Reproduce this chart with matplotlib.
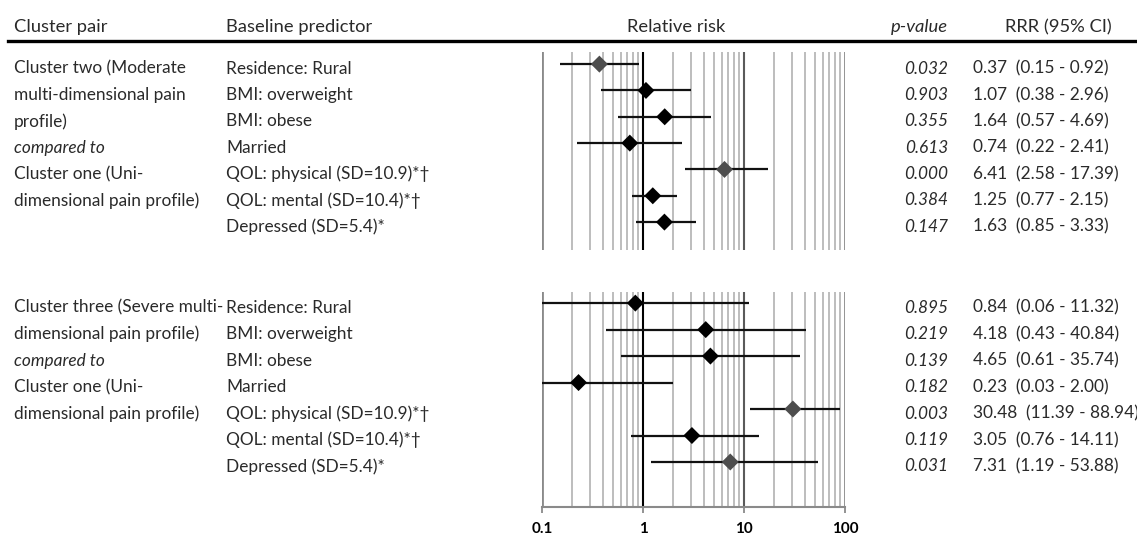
import matplotlib
matplotlib.use("Agg")
import matplotlib.pyplot as plt
import matplotlib.transforms as mtransforms
import numpy as np

W, H = 1137, 535
FONT = "Lato"
TXT = "#2a2a2a"
FS = 12.4

predictors = ["Residence: Rural", "BMI: overweight", "BMI: obese", "Married",
              "QOL: physical (SD=10.9)*\u2020", "QOL: mental (SD=10.4)*\u2020",
              "Depressed (SD=5.4)*"]

pair_two = ["Cluster two (Moderate", "multi-dimensional pain", "profile)",
            "compared to", "Cluster one (Uni-", "dimensional pain profile)"]
pair_three = ["Cluster three (Severe multi-", "dimensional pain profile)",
              "compared to", "Cluster one (Uni-", "dimensional pain profile)"]

rrr_two = [0.37, 1.07, 1.64, 0.74, 6.41, 1.25, 1.63]
lo_two = [0.15, 0.38, 0.57, 0.22, 2.58, 0.77, 0.85]
hi_two = [0.92, 2.96, 4.69, 2.41, 17.39, 2.15, 3.33]
p_two = [0.032, 0.903, 0.355, 0.613, 0.000, 0.384, 0.147]

rrr_three = [0.84, 4.18, 4.65, 0.23, 30.48, 3.05, 7.31]
lo_three = [0.06, 0.43, 0.61, 0.03, 11.39, 0.76, 1.19]
hi_three = [11.32, 40.84, 35.74, 2.00, 88.94, 14.11, 53.88]
p_three = [0.895, 0.219, 0.139, 0.182, 0.003, 0.119, 0.031]

tick_vals = [0.1, 1, 10, 100]
tick_labels = ["0.1", "1", "10", "100"]


def fx(px):
    return px / W


def fy(py):
    return 1 - py / H


def draw_panel(fig, top, bottom, ylo, yhi, rrr, lo, hi, pvals, pair, show_axis):
    ax = fig.add_axes([fx(542), fy(bottom), (845 - 542) / W, (bottom - top) / H])
    ax.set_xscale("log")
    ax.set_xlim(0.1, 100)
    ax.set_ylim(yhi, ylo)
    ax.patch.set_alpha(0)

    # light minor grid lines
    for dec in [0.1, 1, 10]:
        for m in range(2, 10):
            ax.axvline(dec * m, color="#b8b8b8", lw=1.3, zorder=0)
    ax.axvline(0.1, color="#8a8a8a", lw=2.0, zorder=0)
    ax.axvline(1, color="black", lw=1.5, zorder=1)
    ax.axvline(10, color="#5a5a5a", lw=1.5, zorder=0)
    ax.axvline(100, color="#8a8a8a", lw=2.0, zorder=0)

    rows = np.arange(len(rrr))
    rrr = np.array(rrr)
    err = [rrr - np.array(lo), np.array(hi) - rrr]
    ax.errorbar(rrr, rows, xerr=err, fmt="none", ecolor="#111111",
                elinewidth=1.6, capsize=0, zorder=2)
    colors = ["#4d4d4d" if p < 0.05 else "black" for p in pvals]
    ax.scatter(rrr, rows, marker="D", s=75, c=colors, zorder=3, linewidths=0)

    for s in ["top", "right", "left"]:
        ax.spines[s].set_visible(False)
    ax.set_yticks([])
    ax.minorticks_off()
    if show_axis:
        ax.spines["bottom"].set_color("#8a8a8a")
        ax.spines["bottom"].set_linewidth(1.5)
        ax.set_xticks(tick_vals)
        ax.set_xticklabels(tick_labels, fontweight="bold", fontsize=11,
                           family=FONT)
        ax.tick_params(axis="x", length=4, width=1.3, color="#8a8a8a", pad=7)
    else:
        ax.spines["bottom"].set_visible(False)
        ax.set_xticks([])

    tr = mtransforms.blended_transform_factory(fig.transFigure, ax.transData)
    off = 0.17
    for i, name in enumerate(predictors):
        fig.text(fx(226), i + off, name, transform=tr, va="center",
                 fontsize=FS, color=TXT, family=FONT)
        fig.text(fx(948), i + off, f"{pvals[i]:.3f}", transform=tr,
                 va="center", ha="right", fontsize=FS, color=TXT,
                 family=FONT, style="italic")
        fig.text(fx(973), i + off,
                 f"{rrr[i]:.2f}  ({lo[i]:.2f} - {hi[i]:.2f})", transform=tr,
                 va="center", fontsize=FS, color=TXT, family=FONT)
    for i, line in enumerate(pair):
        fig.text(fx(14), i + off, line, transform=tr, va="center",
                 fontsize=FS, color=TXT, family=FONT,
                 style="italic" if line == "compared to" else "normal")
    return ax


fig = plt.figure(figsize=(W / 100, H / 100), dpi=100)

# column headers
hy = fy(27)
HFS = 13.2
fig.text(fx(14), hy, "Cluster pair", va="center", fontsize=HFS, color=TXT, family=FONT)
fig.text(fx(226), hy, "Baseline predictor", va="center", fontsize=HFS, color=TXT, family=FONT)
fig.text(fx(676), hy, "Relative risk", va="center", ha="center", fontsize=HFS, color=TXT, family=FONT)
fig.text(fx(948), hy, "p-value", va="center", ha="right", fontsize=HFS, color=TXT,
         family=FONT, style="italic")
fig.text(fx(1058), hy, "RRR (95% CI)", va="center", ha="center", fontsize=HFS, color=TXT, family=FONT)
fig.add_artist(plt.Line2D([fx(8), fx(1137)], [fy(41), fy(41)], color="black", lw=2.4))

draw_panel(fig, 52, 250, -0.46, 7.06, rrr_two, lo_two, hi_two, p_two, pair_two, False)
draw_panel(fig, 292, 507, -0.42, 7.7, rrr_three, lo_three, hi_three, p_three, pair_three, True)

fig.savefig("out.png", dpi=100)
